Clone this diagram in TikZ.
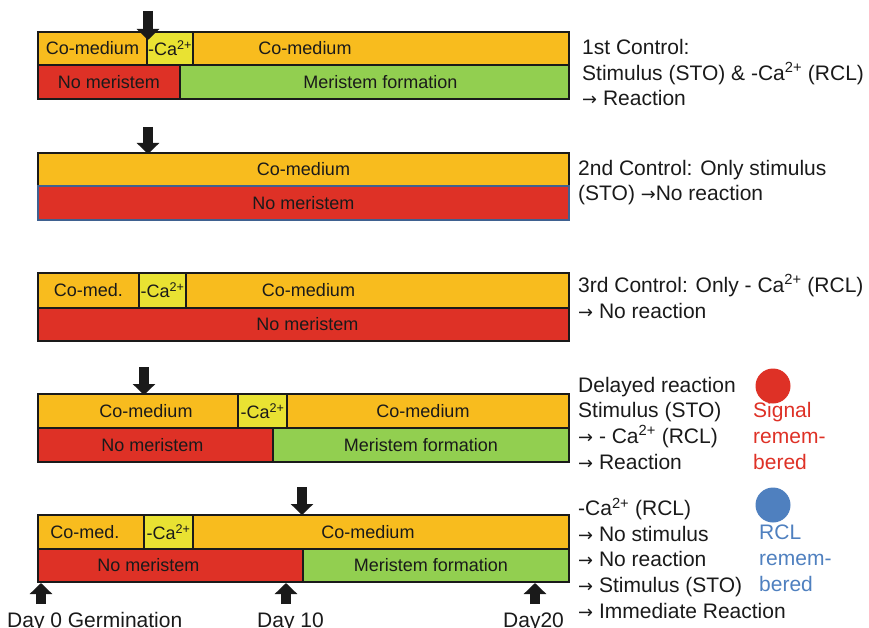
\documentclass[tikz,border=0pt]{standalone}
\usepackage{fontspec}
\setmainfont{Liberation Sans}
\newfontfamily\arrfont{DejaVu Sans}[Scale=0.85]
\newcommand\ra{{\arrfont →}}
\usetikzlibrary{arrows.meta}

\definecolor{comed}{HTML}{F8BC1E}
\definecolor{noca}{HTML}{E9E232}
\definecolor{nomer}{HTML}{DE3126}
\definecolor{merist}{HTML}{92CF50}
\definecolor{rimblue}{HTML}{3F6190}
\definecolor{rclblue}{HTML}{4F80BF}
\definecolor{ink}{HTML}{1A1A1A}

\tikzset{
  cell/.style={draw=ink,line width=2.2pt,inner sep=0pt,outer sep=0pt,anchor=north west,
               font=\fontsize{18}{21}\selectfont,text=ink},
  every label/.style={font=\fontsize{18}{21}\selectfont,text=ink,inner sep=0pt},
  stim/.style={line width=10pt,draw=ink,-{Triangle[width=22pt,length=11pt]}},
  side/.style={anchor=base west,align=left,inner sep=0pt,text=ink,
               font=\fontsize{21}{25.6}\selectfont}
}

\begin{document}
\begin{tikzpicture}[x=1pt,y=-1pt]
  \useasboundingbox (0,0) rectangle (869,628);

  % 1st control
  \node[cell,fill=comed,minimum width=109pt,minimum height=33pt] (c1a) at (38,32) {Co-medium};
  \node[cell,fill=noca,minimum width=46pt,minimum height=33pt] (c1b) at (147,32) {-Ca\textsuperscript{2+}};
  \node[cell,fill=comed,minimum width=376pt,minimum height=33pt,label={[xshift=-76pt]center:Co-medium}] (c1c) at (193,32) {};
  \node[cell,fill=nomer,minimum width=142pt,minimum height=34pt] (r1a) at (38,65) {No meristem};
  \node[cell,fill=merist,minimum width=389pt,minimum height=34pt,label={[xshift=6pt]center:Meristem formation}] (r1b) at (180,65) {};

  % 2nd control
  \node[cell,fill=comed,minimum width=531pt,minimum height=33pt] (c2) at (38,153) {Co-medium};
  \node[cell,fill=nomer,draw=rimblue,minimum width=531pt,minimum height=34pt] (r2) at (38,186) {No meristem};

  % 3rd control
  \node[cell,fill=comed,minimum width=101pt,minimum height=35pt] (c3a) at (38,273) {Co-med.};
  \node[cell,fill=noca,minimum width=47pt,minimum height=35pt] (c3b) at (139,273) {-Ca\textsuperscript{2+}};
  \node[cell,fill=comed,minimum width=383pt,minimum height=35pt,label={[xshift=-69pt]center:Co-medium}] (c3c) at (186,273) {};
  \node[cell,fill=nomer,minimum width=531pt,minimum height=33pt,label={[xshift=4pt]center:No meristem}] (r3) at (38,308) {};

  % delayed reaction
  \node[cell,fill=comed,minimum width=200pt,minimum height=34pt,label={[xshift=8pt]center:Co-medium}] (c4a) at (38,394) {};
  \node[cell,fill=noca,minimum width=49pt,minimum height=34pt] (c4b) at (238,394) {-Ca\textsuperscript{2+}};
  \node[cell,fill=comed,minimum width=282pt,minimum height=34pt,label={[xshift=-5pt]center:Co-medium}] (c4c) at (287,394) {};
  \node[cell,fill=nomer,minimum width=235pt,minimum height=34pt,label={[xshift=-3pt]center:No meristem}] (r4a) at (38,428) {};
  \node[cell,fill=merist,minimum width=296pt,minimum height=34pt] (r4b) at (273,428) {Meristem formation};

  % RCL remembered
  \node[cell,fill=comed,minimum width=106pt,minimum height=34pt,label={[xshift=-6pt]center:Co-med.}] (c5a) at (38,515) {};
  \node[cell,fill=noca,minimum width=49pt,minimum height=34pt] (c5b) at (144,515) {-Ca\textsuperscript{2+}};
  \node[cell,fill=comed,minimum width=376pt,minimum height=34pt,label={[xshift=-13pt]center:Co-medium}] (c5c) at (193,515) {};
  \node[cell,fill=nomer,minimum width=265pt,minimum height=33pt,label={[xshift=-22pt]center:No meristem}] (r5a) at (38,549) {};
  \node[cell,fill=merist,minimum width=266pt,minimum height=33pt,label={[xshift=-5pt]center:Meristem formation}] (r5b) at (303,549) {};

  % stimulus arrows
  \coordinate (s1) at (148,11);  \coordinate (h1) at (148,40);
  \coordinate (s2) at (148,127); \coordinate (h2) at (148,154);
  \coordinate (s4) at (144,367); \coordinate (h4) at (144,395);
  \coordinate (s5) at (302,487); \coordinate (h5) at (302,515);
  \draw[stim] (s1) -- (h1);
  \draw[stim] (s2) -- (h2);
  \draw[stim] (s4) -- (h4);
  \draw[stim] (s5) -- (h5);

  % time axis
  \coordinate (d0) at (41,604);  \coordinate (e0) at (41,583);
  \coordinate (d10) at (286,604); \coordinate (e10) at (286,583);
  \coordinate (d20) at (535,604); \coordinate (e20) at (535,583);
  \draw[stim] (d0) -- (e0);
  \draw[stim] (d10) -- (e10);
  \draw[stim] (d20) -- (e20);
  \node[side] (day0) at (7,627) {Day 0 Germination};
  \node[side] (day10) at (257,627) {Day 10};
  \node[side] (day20) at (503,627) {Day20};

  % descriptions (base = last line)
  \node[side] (n1) at (582,106) {1st Control:\\Stimulus (STO) \& -Ca\textsuperscript{2+} (RCL)\\\ra{} Reaction};
  \node[side] (n2) at (578,201) {2nd Control: Only stimulus\\(STO) \ra No reaction};
  \node[side] (n3) at (578,318) {3rd Control: Only - Ca\textsuperscript{2+} (RCL)\\\ra{} No reaction};
  \node[side] (n4) at (578,469) {Delayed reaction\\Stimulus (STO)\\\ra{} - Ca\textsuperscript{2+} (RCL)\\\ra{} Reaction};
  \node[side] (n5) at (578,618) {-Ca\textsuperscript{2+} (RCL)\\\ra{} No stimulus\\\ra{} No reaction\\\ra{} Stimulus (STO)\\\ra{} Immediate Reaction};

  % memory marks
  \node[circle,fill=nomer,minimum size=35pt,inner sep=0pt] (sigdot) at (773,386) {};
  \node[side,text=nomer] (sig) at (753,469) {Signal\\remem-\\bered};
  \node[circle,fill=rclblue,minimum size=35pt,inner sep=0pt] (rcldot) at (773,505) {};
  \node[side,text=rclblue] (rcl) at (759,591) {RCL\\remem-\\bered};
\end{tikzpicture}
\end{document}
